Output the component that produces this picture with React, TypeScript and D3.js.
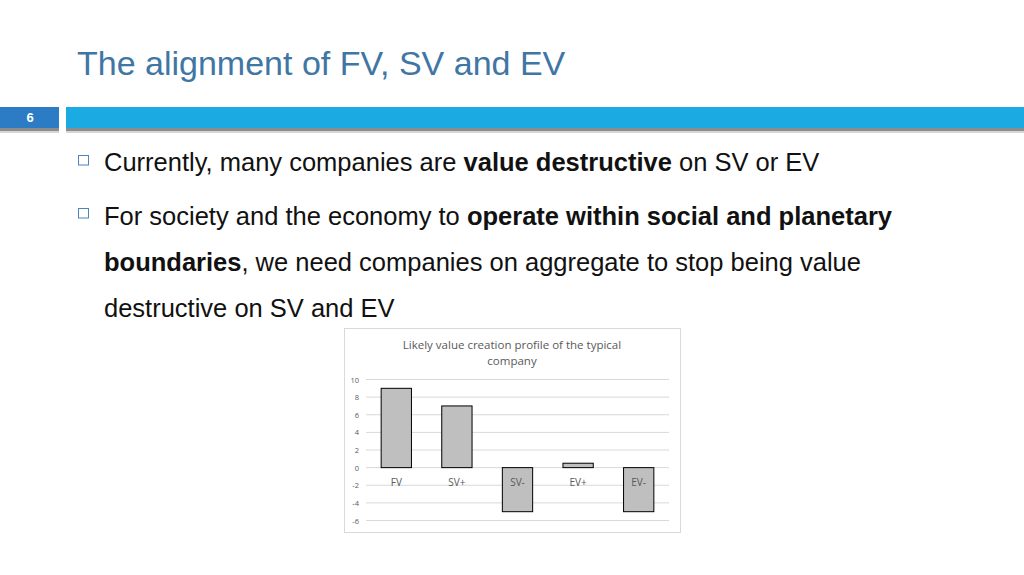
import * as d3 from "d3";

const categories = ["FV", "SV+", "SV-", "EV+", "EV-"];
const values = [9, 7, -5, 0.5, -5];
const yTicks = [10, 8, 6, 4, 2, 0, -2, -4, -6];
const chartTitle = ["Likely value creation profile of the typical", "company"];

const W = 1024;
const H = 575;

// chart box on the slide
const box = { x: 344, y: 328, w: 336, h: 204 };
const plot = { left: 366, right: 669, top: 379.5, bottom: 520.5 };

export default function App() {
  const x = d3
    .scaleBand()
    .domain(categories)
    .range([plot.left, plot.right])
    .paddingInner(0.5)
    .paddingOuter(0.25);
  const y = d3.scaleLinear().domain([-6, 10]).range([plot.bottom, plot.top]);

  const slideFont = "'Liberation Sans', Arial, sans-serif";
  const chartFont = "'Open Sans', 'Liberation Sans', sans-serif";

  return (
    <svg
      width={W}
      height={H}
      style={{ position: "absolute", left: 0, top: 0, background: "#fff" }}
    >
      <text x={77} y={75} fontFamily={slideFont} fontSize={34} fill="#4076a4">
        The alignment of FV, SV and EV
      </text>

      {/* header band */}
      <rect x={0} y={128} width={W} height={3} fill="#8c8c8c" />
      <rect x={0} y={131} width={W} height={2} fill="#d6d6d6" />
      <rect x={0} y={107} width={59} height={21} fill="#2b7cc4" />
      <rect x={66} y={107} width={W - 66} height={21} fill="#1caae2" />
      <rect x={59} y={107} width={7} height={26} fill="#fff" />
      <text
        x={30}
        y={122}
        textAnchor="middle"
        fontFamily={slideFont}
        fontWeight="bold"
        fontSize={13}
        fill="#fff"
      >
        6
      </text>

      {/* bullets */}
      <g fontFamily={slideFont} fontSize={25.5} fill="#111">
        <rect x={78.5} y={155.5} width={10} height={9.5} fill="none" stroke="#4a86c0" strokeWidth={1} />
        <text x={104} y={171}>
          Currently, many companies are <tspan fontWeight="bold">value destructive</tspan> on SV or EV
        </text>
        <rect x={78.5} y={208.5} width={10} height={9.5} fill="none" stroke="#4a86c0" strokeWidth={1} />
        <text x={104} y={225}>
          For society and the economy to{" "}
          <tspan fontWeight="bold">operate within social and planetary</tspan>
        </text>
        <text x={104} y={271}>
          <tspan fontWeight="bold">boundaries</tspan>, we need companies on aggregate to stop being value
        </text>
        <text x={104} y={317}>
          destructive on SV and EV
        </text>
      </g>

      {/* chart */}
      <rect
        x={box.x + 0.5}
        y={box.y + 0.5}
        width={box.w}
        height={box.h}
        fill="#fff"
        stroke="#d9d9d9"
      />
      <g fontFamily={chartFont} fill="#595959">
        {chartTitle.map((t, i) => (
          <text key={t} x={512} y={349 + i * 16} textAnchor="middle" fontSize={11.5}>
            {t}
          </text>
        ))}
        {yTicks.map((t) => (
          <g key={t}>
            <line
              x1={plot.left}
              x2={plot.right}
              y1={y(t)}
              y2={y(t)}
              stroke="#d9d9d9"
              strokeWidth={1}
            />
            <text x={359} y={y(t) + 3} textAnchor="end" fontSize={7.5}>
              {t}
            </text>
          </g>
        ))}
        {categories.map((c, i) => {
          const v = values[i];
          const y0 = y(Math.max(0, v));
          const y1 = y(Math.min(0, v));
          return (
            <rect
              key={c}
              x={x(c)}
              y={y0}
              width={x.bandwidth()}
              height={y1 - y0}
              fill="#bfbfbf"
              stroke="#000"
              strokeWidth={1}
            />
          );
        })}
        {categories.map((c) => (
          <text
            key={c}
            x={(x(c) ?? 0) + x.bandwidth() / 2}
            y={486}
            textAnchor="middle"
            fontSize={10}
          >
            {c}
          </text>
        ))}
      </g>
    </svg>
  );
}
